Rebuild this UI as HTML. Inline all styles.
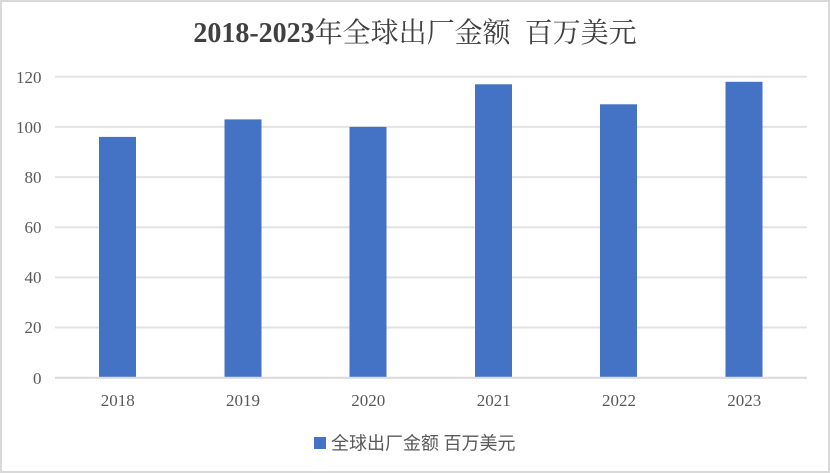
<!DOCTYPE html>
<html><head><meta charset="utf-8"><style>
html,body{margin:0;padding:0;background:#fff;}
svg{display:block;}
</style></head><body>
<svg width="830" height="473" viewBox="0 0 830 473" xmlns="http://www.w3.org/2000/svg">
<rect x="1" y="1" width="828" height="471" fill="#fff" stroke="#d9d9d9" stroke-width="2"/>
<text x="415" y="42" text-anchor="middle" font-size="28" fill="#404040" font-family="'Liberation Serif','Noto Serif CJK SC',serif" xml:space="preserve" style="white-space:pre"><tspan font-weight="bold">2018-2023</tspan><tspan>年全球出厂金额&#160;&#160;百万美元</tspan></text>
<g stroke="#e3e3e3" stroke-width="2">
<line x1="55" x2="807" y1="76.7" y2="76.7"/>
<line x1="55" x2="807" y1="126.9" y2="126.9"/>
<line x1="55" x2="807" y1="177.1" y2="177.1"/>
<line x1="55" x2="807" y1="227.2" y2="227.2"/>
<line x1="55" x2="807" y1="277.4" y2="277.4"/>
<line x1="55" x2="807" y1="327.5" y2="327.5"/>
</g>
<g fill="#4472C4">
<rect x="99" y="136.9" width="37" height="240.8"/>
<rect x="224.5" y="119.4" width="37" height="258.3"/>
<rect x="349.5" y="126.9" width="37" height="250.8"/>
<rect x="475" y="84.3" width="37" height="293.4"/>
<rect x="600" y="104.3" width="37" height="273.4"/>
<rect x="725.5" y="81.8" width="37" height="295.9"/>
</g>
<line x1="55" x2="807" y1="377.7" y2="377.7" stroke="#d9d9d9" stroke-width="2"/>
<g font-family="'Liberation Serif',serif" font-size="17" fill="#595959" text-anchor="end">
<text x="41.5" y="83">120</text>
<text x="41.5" y="133">100</text>
<text x="41.5" y="183">80</text>
<text x="41.5" y="233">60</text>
<text x="41.5" y="283">40</text>
<text x="41.5" y="333">20</text>
<text x="41.5" y="384">0</text>
</g>
<g font-family="'Liberation Serif',serif" font-size="17" fill="#595959" text-anchor="middle">
<text x="117.7" y="406">2018</text>
<text x="243" y="406">2019</text>
<text x="368.3" y="406">2020</text>
<text x="493.7" y="406">2021</text>
<text x="619" y="406">2022</text>
<text x="744.3" y="406">2023</text>
</g>
<rect x="314" y="437" width="12" height="12" fill="#4472C4"/>
<text x="331" y="449.5" font-size="18" fill="#595959" font-family="'Liberation Serif','Noto Sans CJK SC',sans-serif">全球出厂金额 百万美元</text>
</svg>
</body></html>
